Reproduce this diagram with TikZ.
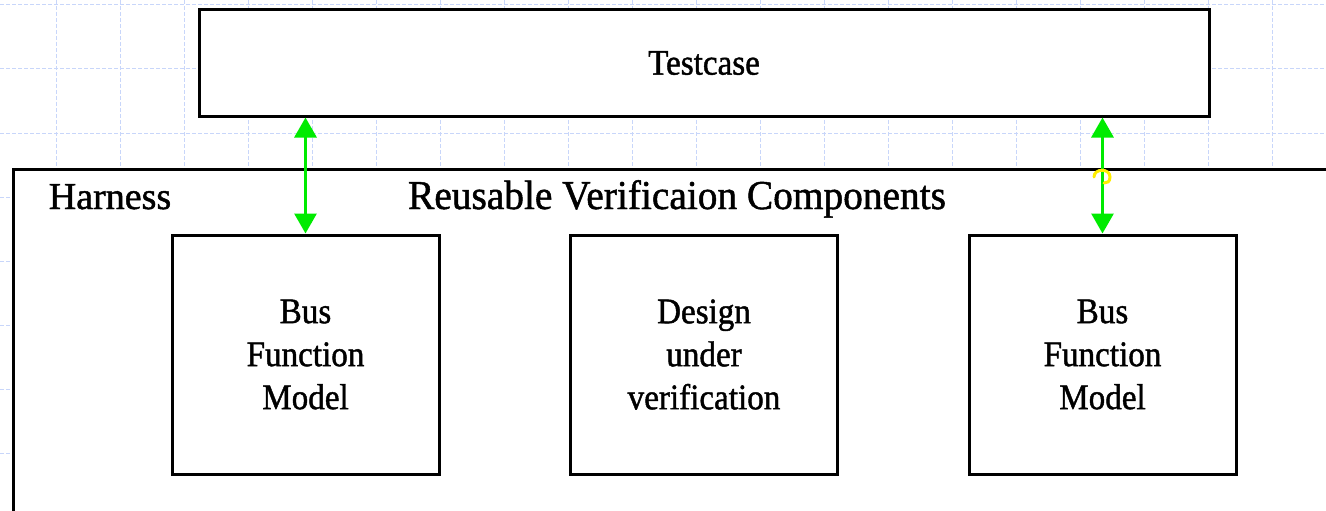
\documentclass[tikz,border=0pt]{standalone}
\usepackage{fontspec}
\setmainfont[FakeBold=1.2]{Liberation Serif}
\newfontfamily\boxserif[FakeStretch=0.92,FakeBold=1.2]{Liberation Serif}
\newfontfamily\titleserif[FakeStretch=0.96,FakeBold=1.2]{Liberation Serif}
\usetikzlibrary{arrows.meta}
\definecolor{gridblue}{RGB}{200,214,250}
\definecolor{linkgreen}{RGB}{0,235,0}
\definecolor{hopyellow}{RGB}{255,238,0}

\begin{document}
\begin{tikzpicture}[x=1pt,y=-1pt,
  box/.style={draw=black, line width=3pt, fill=white, inner sep=0pt,
    font=\boxserif\fontsize{36}{43}\selectfont, align=center},
  link/.style={draw=linkgreen, line width=3pt,
    {Triangle[width=22pt,length=20pt]}-{Triangle[width=22pt,length=20pt]}},
  gridline/.style={gridblue, line width=1pt, dash pattern=on 4pt off 2pt}]
\useasboundingbox (0,0) rectangle (1326,511);
\clip (0,0) rectangle (1326,511);

% background grid
\foreach \gx in {56,120,...,1326} \draw[gridline] (\gx,0) -- (\gx,511);
\foreach \gy in {5,69,...,511} \draw[gridline] (0,\gy) -- (1326,\gy);

% testcase on top
\node[box, minimum width=1010pt, minimum height=106pt] (testcase) at (704,63) {Testcase};

% harness frame, running off the right and bottom edges
\node[box, minimum width=1340pt, minimum height=360pt] (harness) at (683,349) {};
\node[font=\fontsize{38}{44}\selectfont, anchor=base] (harnesslabel) at (110,209) {Harness};
\node[font=\titleserif\fontsize{41}{48}\selectfont, anchor=base] (title) at (677,209)
  {Reusable Verificaion Components};

% components
\node[box, minimum width=267pt, minimum height=239pt] (bfmL) at (305.5,354.5)
  {Bus\\Function\\Model};
\node[box, minimum width=267pt, minimum height=239pt] (duv) at (704,354.5)
  {Design\\under\\verification};
\node[box, minimum width=267pt, minimum height=239pt] (bfmR) at (1102.5,354.5)
  {Bus\\Function\\Model};

% bidirectional links
\draw[link] (testcase.south -| bfmL.north) -- (bfmL.north);
\draw[link] (testcase.south -| bfmR.north) -- (bfmR.north);

% small hop mark where the right link crosses the frame
\coordinate (hop) at (1102,177);
\draw[hopyellow, line width=3pt, line cap=round]
  (hop) ++(-8,0) .. controls ++(0,-9) and ++(0,-9) .. ++(16,0)
  .. controls ++(0,5) and ++(3,0) .. ++(-6,6);
\end{tikzpicture}
\end{document}
